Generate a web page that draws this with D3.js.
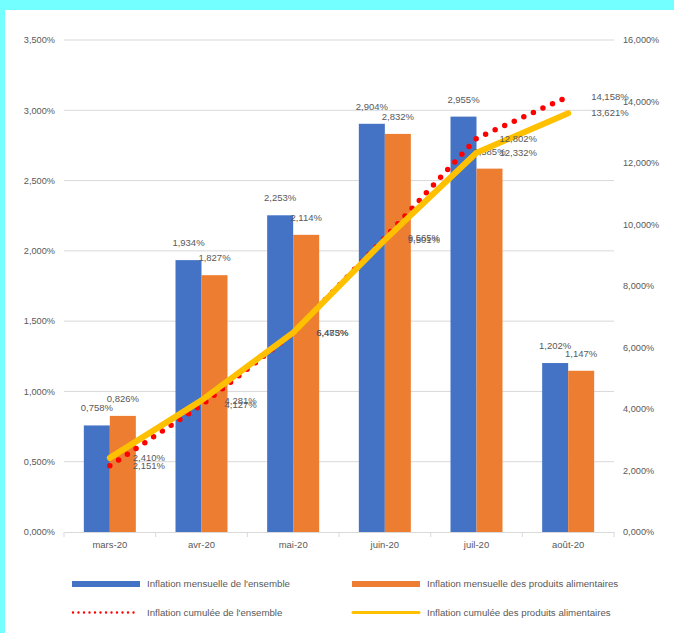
<!DOCTYPE html>
<html>
<head>
<meta charset="utf-8">
<script src="https://cdn.jsdelivr.net/npm/d3@7/dist/d3.min.js"></script>
<style>
html,body{margin:0;padding:0;background:#73FFFF;}
svg{display:block;}
text{font-family:"Liberation Sans",Arial,sans-serif;fill:#595959;}
</style>
</head>
<body>
<script>
const categories = ["mars-20","avr-20","mai-20","juin-20","juil-20","août-20"];
const mensuelleEnsemble = [0.758,1.934,2.253,2.904,2.955,1.202];
const mensuelleAlim = [0.826,1.827,2.114,2.832,2.585,1.147];
const cumuleeEnsemble = [2.151,4.127,6.473,9.565,12.802,14.158];
const cumuleeAlim = [2.410,4.281,6.485,9.501,12.332,13.621];
const leftTicks = [0,0.5,1,1.5,2,2.5,3,3.5];
const rightTicks = [0,2,4,6,8,10,12,14,16];
const seriesNames = ["Inflation mensuelle de l'ensemble","Inflation mensuelle des produits alimentaires","Inflation cumulée de l'ensemble","Inflation cumulée des produits alimentaires"];

const W=674,H=633;
const fmt = v => d3.format(".3f")(v).replace(".",",")+"%";
const svg = d3.select("body").append("svg").attr("width",W).attr("height",H);
svg.append("rect").attr("x",5).attr("y",10).attr("width",W-5).attr("height",H-10).attr("fill","#fff");

const x = d3.scaleBand().domain(categories).range([64,614]);
const bw = x.bandwidth();
const xi = d3.scaleBand().domain([0,1]).range([(bw-52)/2,(bw+52)/2]);
const yL = d3.scaleLinear().domain([0,3.5]).range([532,40]);
const yR = d3.scaleLinear().domain([0,16]).range([532,40]);

// gridlines
svg.append("g").selectAll("line").data(leftTicks.slice(1)).join("line")
  .attr("x1",64).attr("x2",614).attr("y1",d=>yL(d)).attr("y2",d=>yL(d))
  .attr("stroke","#d9d9d9").attr("stroke-width",1);

// left axis labels
svg.append("g").selectAll("text").data(leftTicks).join("text")
  .attr("x",55).attr("y",d=>yL(d)).attr("dy","0.35em").attr("text-anchor","end")
  .attr("font-size",9.2).text(d=>fmt(d));
// right axis labels
svg.append("g").selectAll("text").data(rightTicks).join("text")
  .attr("x",623).attr("y",d=>yR(d)).attr("dy","0.35em").attr("text-anchor","start")
  .attr("font-size",9.2).text(d=>fmt(d));

// x axis
const xAxis = d3.axisBottom(x).tickSize(0).tickPadding(9);
const gx = svg.append("g").attr("transform","translate(0,532)").call(xAxis);
gx.select(".domain").attr("stroke","#d9d9d9");
gx.selectAll("text").attr("font-size",9.5).attr("fill","#595959").style("font-family","Liberation Sans, Arial, sans-serif");
const bounds = categories.map(c=>x(c)).concat([x.range()[1]]);
svg.append("g").selectAll("line").data(bounds).join("line")
  .attr("x1",d=>d).attr("x2",d=>d).attr("y1",532).attr("y2",537)
  .attr("stroke","#d9d9d9");

// bars
const barSeries = [mensuelleEnsemble, mensuelleAlim];
const barColors = ["#4472C4","#ED7D31"];
barSeries.forEach((vals,si)=>{
  const g = svg.append("g");
  g.selectAll("rect").data(vals).join("rect")
    .attr("x",(d,i)=>x(categories[i])+xi(si)).attr("width",xi.bandwidth())
    .attr("y",d=>yL(d)).attr("height",d=>yL(0)-yL(d))
    .attr("fill",barColors[si]);
  g.selectAll("text").data(vals).join("text")
    .attr("x",(d,i)=>x(categories[i])+xi(si)+xi.bandwidth()/2)
    .attr("y",d=>yL(d)-14).attr("text-anchor","middle").attr("font-size",9.5)
    .text(d=>fmt(d));
});

// lines
const cx = i => x(categories[i])+bw/2;
const line = d3.line().x((d,i)=>cx(i)).y(d=>yR(d));
svg.append("path").datum(cumuleeEnsemble).attr("d",line)
  .attr("fill","none").attr("stroke","#FF0000").attr("stroke-width",5.5)
  .attr("stroke-linecap","round").attr("stroke-dasharray","0 10.5");
svg.append("path").datum(cumuleeAlim).attr("d",line)
  .attr("fill","none").attr("stroke","#FFC000").attr("stroke-width",6)
  .attr("stroke-linecap","round").attr("stroke-linejoin","round");

[cumuleeEnsemble,cumuleeAlim].forEach(vals=>{
  svg.append("g").selectAll("text").data(vals).join("text")
    .attr("x",(d,i)=>cx(i)+23).attr("y",d=>yR(d)).attr("dy","0.35em")
    .attr("font-size",9.5).text(d=>fmt(d));
});

// legend
const legend = [
  {x:72,y:584,type:"rect",color:"#4472C4"},
  {x:352,y:584,type:"rect",color:"#ED7D31"},
  {x:72,y:612.5,type:"dot",color:"#FF0000"},
  {x:352,y:612.5,type:"line",color:"#FFC000"}
];
legend.forEach((l,i)=>{
  if(l.type==="rect"){
    svg.append("rect").attr("x",l.x).attr("y",l.y-3).attr("width",68).attr("height",6).attr("fill",l.color);
  } else if(l.type==="dot"){
    svg.append("line").attr("x1",l.x+1).attr("x2",l.x+67).attr("y1",l.y).attr("y2",l.y)
      .attr("stroke",l.color).attr("stroke-width",2.4).attr("stroke-linecap","round").attr("stroke-dasharray","0 5.5");
  } else {
    svg.append("line").attr("x1",l.x+1).attr("x2",l.x+67).attr("y1",l.y).attr("y2",l.y)
      .attr("stroke",l.color).attr("stroke-width",3).attr("stroke-linecap","round");
  }
  svg.append("text").attr("x",l.x+75).attr("y",l.y).attr("dy","0.35em").attr("font-size",9.7).text(seriesNames[i]);
});
</script>
</body>
</html>
